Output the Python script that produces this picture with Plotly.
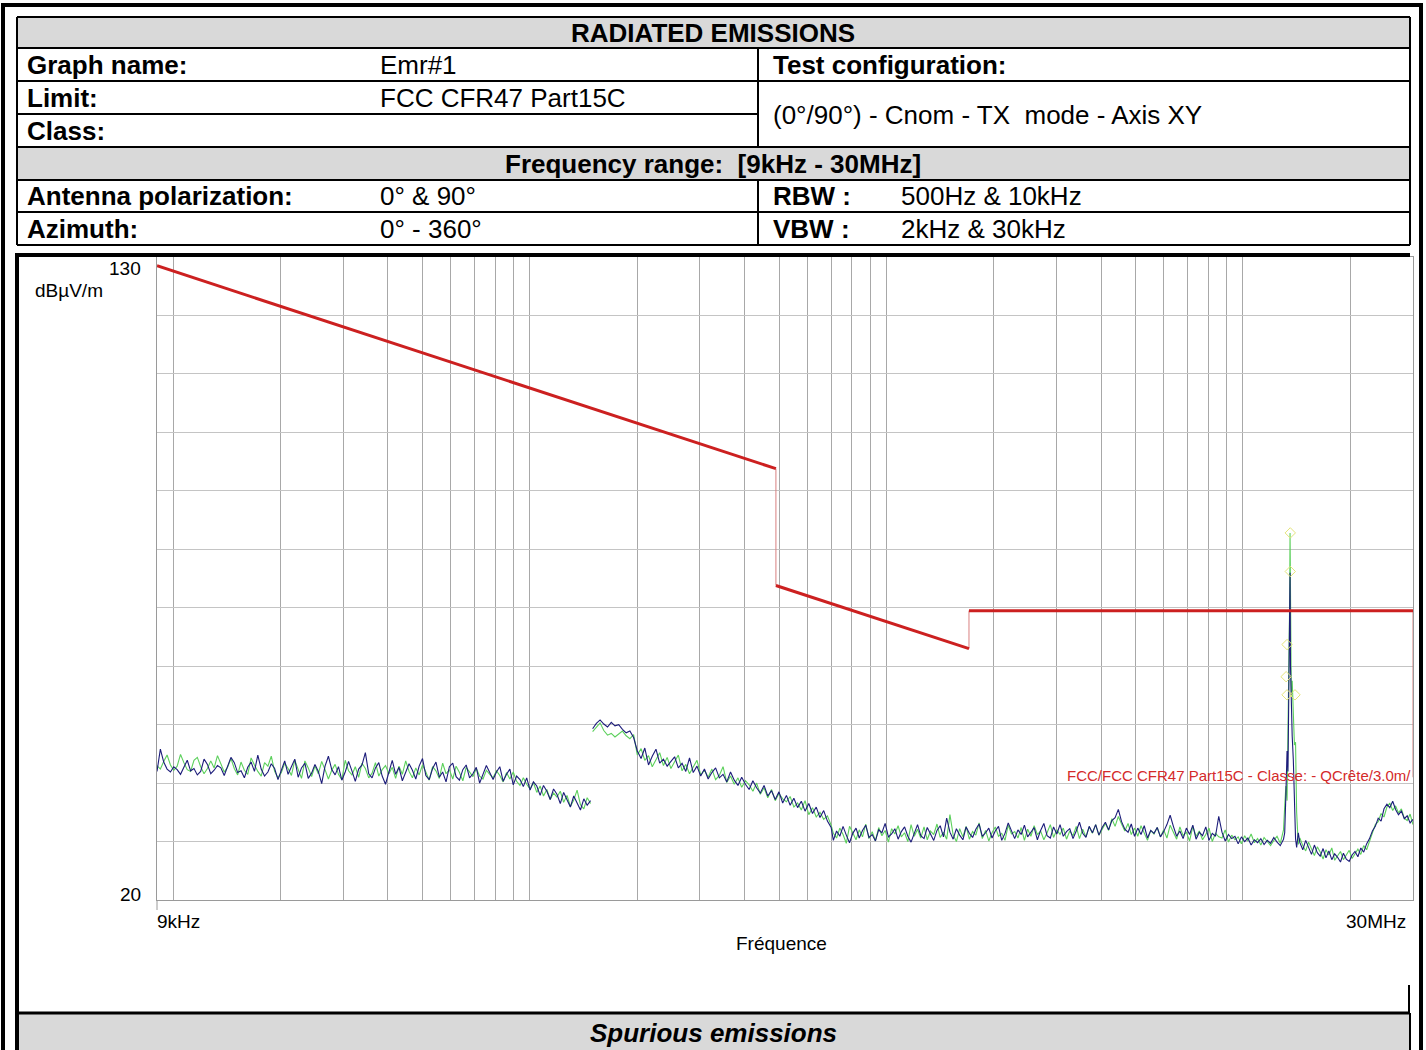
import numpy as np
import plotly.graph_objects as go

FONT = "Liberation Sans, Arial, sans-serif"

# ---------------- data ----------------
# limit line FCC 15.209 (extrapolated to 3 m), dBuV/m
limit_freq_hz = [9e3, 490e3, 490e3, 1.705e6, 1.705e6, 30e6]
limit_dbuv = [128.5, 93.8, 73.8, 63.0, 69.5, 69.5]
label_box_bottom_dbuv = 41.0

# sweep segments (start, stop) in Hz
seg1_range = (9e3, 148e3)
seg2_range = (150e3, 700e3)
seg3_range = (710e3, 13.0e6)
seg5_range = (14.45e6, 30e6)

blue_seg1 = [
    42.0, 45.8, 43.6, 42.4, 41.9, 42.8, 42.3, 41.5, 42.7, 43.9,
    42.1, 42.5, 41.4, 42.0, 44.1, 43.2, 41.6, 42.2, 43.0, 42.6,
    41.3, 42.9, 44.4, 43.5, 41.8, 42.1, 40.9, 42.7, 43.6, 42.0,
    44.8, 42.4, 41.2, 41.9, 43.3, 42.5, 40.6, 42.2, 43.8, 41.5,
    42.7, 44.1, 41.0, 42.6, 43.4, 40.8, 41.7, 43.2, 42.0, 39.9,
    42.9, 44.6, 42.3, 41.4, 42.8, 40.5, 41.9, 43.7, 42.1, 40.3,
    42.4, 43.1, 45.2, 41.6, 40.9, 42.6, 43.5, 41.2, 39.8, 42.0,
    43.9, 41.5, 42.7, 40.4, 41.8, 43.3, 42.2, 40.7, 42.9, 44.2,
    41.3, 40.6, 42.5, 43.6, 41.0, 41.9, 40.2, 42.8, 43.4, 41.1,
    40.5, 42.3, 43.1, 40.9, 41.6, 42.7, 40.0, 41.4, 43.0, 41.8,
    40.6, 41.9, 42.8, 40.3, 41.5, 42.4, 39.7, 41.2, 40.6, 39.4,
    40.9, 38.8, 40.2, 39.5, 37.9, 39.6, 38.6, 37.2, 39.0, 38.1,
    36.5, 38.4, 37.0, 35.9, 37.8, 36.6, 35.4, 37.3, 36.2, 37.0]
green_seg1 = [
    43.0, 42.4, 43.7, 44.8, 43.1, 42.2, 42.9, 44.9, 43.5, 42.3,
    42.0, 43.9, 44.4, 42.8, 41.6, 42.5, 43.8, 42.6, 44.7, 43.3,
    41.9, 42.7, 44.2, 42.5, 41.4, 43.6, 42.2, 41.5, 44.3, 43.1,
    42.0, 41.2, 43.5, 42.9, 44.6, 42.0, 40.9, 41.8, 43.4, 42.5,
    41.3, 43.9, 42.4, 40.8, 43.8, 42.6, 41.1, 42.9, 41.6, 43.7,
    42.3, 40.7, 42.2, 43.2, 41.5, 40.6, 43.9, 42.1, 41.4, 42.8,
    41.0, 43.4, 42.5, 40.9, 41.7, 43.5, 41.2, 42.3, 43.0, 41.6,
    42.7, 40.8, 42.9, 41.5, 43.8, 42.0, 40.9, 42.6, 41.4, 43.1,
    41.9, 40.5, 42.8, 42.1, 40.8, 43.4, 41.6, 42.3, 40.7, 42.9,
    41.8, 40.4, 42.7, 42.0, 41.1, 42.5, 41.2, 40.7, 42.2, 41.5,
    40.9, 42.1, 41.3, 40.2, 41.8, 40.7, 41.9, 40.3, 39.6, 40.9,
    39.8, 39.0, 40.1, 38.4, 39.5, 37.8, 38.9, 37.2, 38.3, 37.6,
    38.6, 36.7, 37.9, 36.0, 37.1, 38.8, 36.3, 35.6, 37.5, 36.5]

blue_seg2 = [
    49.3, 50.2, 50.8, 50.1, 49.6, 50.4, 49.8, 50.0, 49.2, 48.6, 48.9, 47.8,
    45.5, 44.2, 46.0, 43.1, 44.6, 45.8, 43.4, 44.1, 42.9, 43.8,
    44.5, 42.6, 43.4, 42.0, 44.3, 41.8, 42.9, 41.2, 42.4, 40.7,
    41.8, 42.6, 40.9, 41.5, 40.2, 41.9, 40.5, 39.6, 41.0, 39.8,
    38.9, 40.4, 39.2, 38.3, 39.6, 37.8, 38.7, 37.2, 38.5, 36.6,
    37.9, 36.2, 37.4, 35.8, 36.9, 35.2, 36.5, 34.8, 35.9, 34.1, 35.3, 33.5, 32.4]
green_seg2 = [
    48.8, 49.6, 50.3, 49.0, 48.2, 48.5, 47.9, 48.4, 48.9, 48.1, 47.6, 48.3,
    44.8, 45.9, 43.9, 44.7, 42.8, 44.0, 45.2, 43.0, 44.4, 42.5,
    43.6, 44.8, 42.1, 43.2, 41.6, 42.8, 43.9, 41.4, 42.2, 41.0,
    42.4, 40.6, 41.3, 42.8, 40.1, 41.2, 39.8, 40.9, 39.3, 40.4,
    39.7, 38.6, 40.0, 38.1, 39.2, 37.5, 38.9, 37.0, 38.2, 37.3,
    36.8, 37.7, 35.9, 36.6, 35.4, 37.0, 34.6, 35.8, 34.2, 35.0, 33.8, 34.4, 32.8]

blue_seg3 = [
    30.2, 31.8, 30.9, 32.6, 31.1, 29.8, 31.4, 32.3, 30.6, 31.9,
    32.8, 30.7, 31.2, 30.1, 32.0, 31.5, 33.1, 30.8, 31.3, 32.2,
    30.4, 31.7, 32.5, 30.9, 29.9, 31.6, 32.9, 31.0, 30.5, 32.4,
    31.3, 30.2, 31.9, 32.7, 30.8, 34.0, 31.6, 30.4, 32.2, 31.1,
    30.3, 32.5, 31.4, 30.7, 32.1, 33.0, 30.9, 31.5, 32.3, 30.6,
    31.8, 32.6, 30.2, 31.4, 33.2, 31.7, 30.5, 32.0, 31.2, 32.8,
    30.8, 31.6, 32.4, 30.3, 31.9, 33.1, 31.0, 30.6, 32.5, 31.3,
    32.9, 30.9, 31.7, 32.2, 30.5, 31.8, 33.3, 31.4, 30.7, 32.6,
    31.5, 32.9, 31.1, 32.4, 33.3, 32.0, 33.6, 34.1, 35.5, 33.4,
    32.1, 31.6, 33.0, 30.9, 32.3, 31.2, 32.7, 30.6, 31.9, 31.4,
    32.4, 30.8, 31.7, 32.9, 34.5, 32.6, 30.9, 31.8, 30.5, 32.3,
    31.2, 32.8, 30.4, 31.6, 31.0, 32.5, 30.2, 31.4, 30.9, 34.3,
    31.6, 30.1, 31.2, 30.5, 30.9, 29.6, 30.8, 30.0, 30.6, 29.4,
    30.3, 29.8, 30.5, 29.5, 30.2, 29.7, 30.7, 29.9, 29.3, 30.4]
green_seg3 = [
    31.4, 30.6, 32.3, 31.2, 29.7, 32.6, 31.5, 30.3, 32.0, 30.8,
    33.0, 30.5, 31.7, 30.1, 32.4, 31.0, 31.9, 29.9, 32.2, 31.3,
    32.7, 30.8, 31.5, 30.0, 32.9, 30.9, 32.1, 30.6, 32.5, 30.3,
    31.8, 31.2, 33.0, 30.7, 31.6, 30.4, 34.6, 31.1, 30.0, 32.2,
    30.8, 32.6, 30.4, 31.7, 31.1, 33.2, 30.5, 31.9, 30.1, 31.5,
    32.5, 30.9, 31.4, 30.2, 32.8, 31.3, 31.7, 30.6, 32.4, 30.2,
    32.1, 30.9, 32.7, 31.2, 31.8, 30.3, 31.5, 32.9, 30.7, 32.0,
    31.2, 32.3, 30.4, 31.8, 31.0, 32.6, 30.5, 32.1, 30.8, 32.5,
    31.4, 32.9, 31.1, 32.2, 33.1, 31.9, 33.9, 32.6, 34.3, 33.0,
    31.8, 33.1, 31.2, 32.3, 30.9, 32.7, 31.5, 30.2, 31.9, 31.3,
    32.4, 30.8, 32.0, 30.6, 32.8, 31.7, 30.4, 32.5, 31.0, 31.6,
    30.1, 32.6, 30.9, 31.8, 30.3, 31.2, 32.3, 30.0, 31.4, 30.8,
    30.6, 32.0, 29.9, 31.1, 30.3, 30.8, 29.6, 31.0, 30.1, 31.3,
    29.8, 30.5, 29.4, 30.7, 30.0, 29.3, 30.2, 30.9, 29.7, 32.0]

spike_freq_mhz = [13.1, 13.2, 13.3, 13.38, 13.45, 13.52, 13.56, 13.6, 13.67, 13.75, 13.85, 13.95, 14.05, 14.15, 14.3]
green_spike = [36.0, 39.5, 37.0, 48.0, 58.0, 70.0, 82.8, 66.0, 55.0, 57.5, 52.0, 46.5, 47.0, 35.0, 29.5]
blue_spike = [31.5, 38.0, 45.5, 42.0, 55.0, 68.0, 76.0, 60.0, 53.5, 48.0, 44.0, 36.0, 30.5, 29.0, 31.5]

blue_seg5 = [
    29.8, 28.6, 30.2, 28.9, 27.8, 29.4, 28.1, 27.5, 28.8, 27.2, 28.4, 26.9, 27.9, 27.3, 26.5, 28.0, 27.0, 26.6, 27.7, 28.3,
    27.4, 28.9, 28.2, 29.6, 30.5, 31.8, 32.6, 34.0, 33.5, 35.6, 36.4, 35.8, 36.9, 35.5, 34.6, 35.2, 33.9, 34.4, 33.2, 33.8]
green_seg5 = [
    30.6, 29.3, 28.4, 29.9, 28.7, 27.6, 29.1, 28.2, 27.0, 28.6, 27.7, 28.9, 26.8, 27.5, 28.3, 26.9, 27.8, 28.5, 27.1, 27.9,
    28.7, 27.8, 29.3, 28.6, 30.1, 31.2, 32.9, 33.4, 34.8, 34.2, 35.9, 36.6, 35.3, 36.1, 34.9, 35.6, 34.0, 33.6, 34.7, 32.9]

# peak markers (quasi-peak points)
marker_freq_mhz = [13.58, 13.58, 13.3, 13.22, 13.3, 14.0]
marker_dbuv = [82.8, 76.2, 63.7, 58.2, 55.1, 55.1]

# ---------------- build ----------------
def sweep(rng, n):
    return list(np.geomspace(rng[0], rng[1], n))

f1 = sweep(seg1_range, len(blue_seg1))
f2 = sweep(seg2_range, len(blue_seg2))
f3 = sweep(seg3_range, len(blue_seg3))
f4 = [v * 1e6 for v in spike_freq_mhz]
f5 = sweep(seg5_range, len(blue_seg5))

x_all = f1 + [None] + f2 + f3 + f4 + f5
blue_all = blue_seg1 + [None] + blue_seg2 + blue_seg3 + blue_spike + blue_seg5
green_all = green_seg1 + [None] + green_seg2 + green_seg3 + green_spike + green_seg5

fig = go.Figure()

fig.add_trace(go.Scatter(x=x_all, y=green_all, mode="lines",
                         line=dict(color="#5cd05c", width=1.1), hoverinfo="skip"))
fig.add_trace(go.Scatter(x=x_all, y=blue_all, mode="lines",
                         line=dict(color="#1c1c7a", width=1.1), hoverinfo="skip"))
fig.add_trace(go.Scatter(x=[v * 1e6 for v in marker_freq_mhz], y=marker_dbuv, mode="markers",
                         marker=dict(symbol="diamond-open", size=8, color="#e4e47a",
                                     line=dict(width=1, color="#e4e47a")), hoverinfo="skip"))

thick_x, thick_y, thin_x, thin_y = [], [], [], []
for i in (0, 2, 4):
    thick_x += [limit_freq_hz[i], limit_freq_hz[i + 1], None]
    thick_y += [limit_dbuv[i], limit_dbuv[i + 1], None]
for i in (1, 3):
    thin_x += [limit_freq_hz[i], limit_freq_hz[i + 1], None]
    thin_y += [limit_dbuv[i], limit_dbuv[i + 1], None]
thin_x += [limit_freq_hz[-1], limit_freq_hz[-1]]
thin_y += [limit_dbuv[-1], label_box_bottom_dbuv]

fig.add_trace(go.Scatter(x=thin_x, y=thin_y, mode="lines",
                         line=dict(color="#d98080", width=1), hoverinfo="skip"))
fig.add_trace(go.Scatter(x=thick_x, y=thick_y, mode="lines",
                         line=dict(color="#cc2020", width=3), hoverinfo="skip"))

grid_x = [m * 10 ** k for k in range(3, 8) for m in range(1, 10) if 9e3 <= m * 10 ** k <= 30e6]

# ---------------- layout ----------------
W, H = 1426, 1050
ML, MR, MT, MB = 157, 13, 257, 150
PW, PH = W - ML - MR, H - MT - MB

def px(x):
    return (x - ML) / PW

def py(y):
    return 1 - (y - MT) / PH

shapes = []

def hline(x0, x1, y, w=2, color="black"):
    shapes.append(dict(type="line", xref="paper", yref="paper", x0=px(x0), x1=px(x1), y0=py(y), y1=py(y),
                       line=dict(color=color, width=w)))

def vline(x, y0, y1, w=2, color="black"):
    shapes.append(dict(type="line", xref="paper", yref="paper", x0=px(x), x1=px(x), y0=py(y0), y1=py(y1),
                       line=dict(color=color, width=w)))

def rect(x0, y0, x1, y1, fill):
    shapes.append(dict(type="rect", xref="paper", yref="paper", x0=px(x0), x1=px(x1), y0=py(y0), y1=py(y1),
                       fillcolor=fill, line=dict(width=0), layer="below"))

GREY = "#d9d9d9"
TL, TR = 17, 1410
rect(TL, 17, TR, 48, GREY)
rect(TL, 147, TR, 180, GREY)
rect(TL, 1013, TR, 1052, GREY)

# outer frame
vline(3, 3, 1052, w=4)
vline(1421, 3, 1052, w=4)
hline(1, 1423, 5, w=4)

# table
for yy in (17, 48, 81, 147, 180, 212, 245):
    hline(TL, TR, yy)
hline(TL, 758, 114)
vline(TL, 17, 245)
vline(TR, 17, 245)
vline(758, 48, 147)
vline(758, 180, 245)

# chart frame
hline(15, TR, 255, w=4)
vline(17, 253, 1052, w=4)
vline(1409, 985, 1013, w=2)
hline(TL, TR, 1013, w=3)
vline(TR, 1013, 1052, w=2)

# small tick at left end of x axis
vline(157, 900, 910, w=1, color="#9a9a9a")

annotations = []

def text(x, y, s, size=26, bold=False, italic=False, anchor="left", color="black"):
    if bold:
        s = "<b>" + s + "</b>"
    if italic:
        s = "<i>" + s + "</i>"
    annotations.append(dict(xref="paper", yref="paper", x=px(x), y=py(y), text=s, showarrow=False,
                            xanchor=anchor, yanchor="middle",
                            font=dict(family=FONT, size=size, color=color)))

text(713, 33, "RADIATED EMISSIONS", bold=True, anchor="center")
text(25, 65, "Graph name:", bold=True)
text(378, 65, "Emr#1")
text(771, 65, "Test configuration:", bold=True)
text(25, 98, "Limit:", bold=True)
text(378, 98, "FCC CFR47 Part15C")
text(25, 131, "Class:", bold=True)
text(771, 115, "(0°/90°) - Cnom - TX  mode - Axis XY")
text(713, 164, "Frequency range:  [9kHz - 30MHz]", bold=True, anchor="center")
text(25, 196, "Antenna polarization:", bold=True)
text(378, 196, "0° &amp; 90°")
text(771, 196, "RBW :", bold=True)
text(899, 196, "500Hz &amp; 10kHz")
text(25, 229, "Azimuth:", bold=True)
text(378, 229, "0° - 360°")
text(771, 229, "VBW :", bold=True)
text(899, 229, "2kHz &amp; 30kHz")
text(713, 1033, "Spurious emissions", bold=True, italic=True, anchor="center")

text(143, 268, "130", size=19, anchor="right")
text(33, 290, "dBµV/m", size=19)
text(143, 894, "20", size=19, anchor="right")
text(155, 921, "9kHz", size=19)
text(1408, 921, "30MHz", size=19, anchor="right")
text(781, 943, "Fréquence", size=19, anchor="center")
text(1413, 775, "FCC/FCC CFR47 Part15C - Classe: - QCrête/3.0m/", size=15, anchor="right", color="#d42a2a")

fig.update_layout(
    width=W, height=H, autosize=False,
    margin=dict(l=ML, r=MR, t=MT, b=MB, pad=0),
    paper_bgcolor="white", plot_bgcolor="white",
    showlegend=False,
    font=dict(family=FONT),
    shapes=shapes, annotations=annotations,
    xaxis=dict(type="log", range=[np.log10(9e3), np.log10(30e6)], tickvals=grid_x,
               showticklabels=False, ticks="", showgrid=True, gridcolor="#a8a8a8", gridwidth=1,
               zeroline=False, showline=True, linecolor="#9a9a9a", linewidth=1, mirror=True),
    yaxis=dict(range=[20, 130], tick0=20, dtick=10, showticklabels=False, ticks="",
               showgrid=True, gridcolor="#c4c4c4", gridwidth=1, zeroline=False,
               showline=True, linecolor="#9a9a9a", linewidth=1, mirror=True),
)

fig.write_html("out.html", config={"displayModeBar": False})
